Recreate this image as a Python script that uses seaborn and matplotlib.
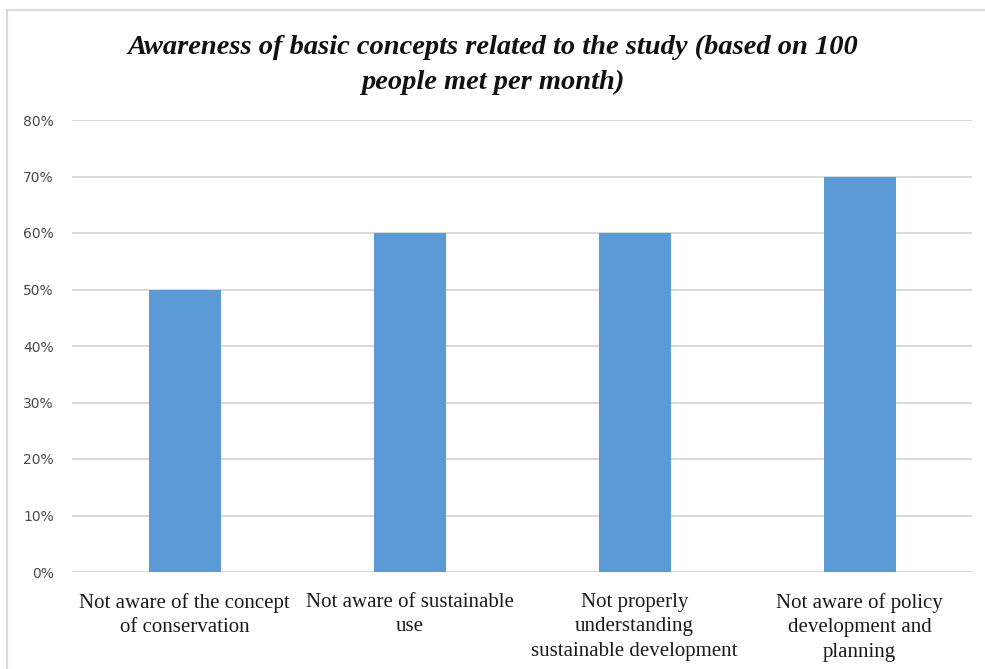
import matplotlib
matplotlib.use("Agg")
import matplotlib.pyplot as plt
import seaborn as sns
import pandas as pd
from matplotlib.patches import Rectangle
from matplotlib.ticker import FuncFormatter

categories = [
    "Not aware of the concept\nof conservation",
    "Not aware of sustainable\nuse",
    "Not properly\nunderstanding\nsustainable development",
    "Not aware of policy\ndevelopment and\nplanning",
]
shares = [0.50, 0.60, 0.60, 0.70]
title = "Awareness of basic concepts related to the study (based on 100\npeople met per month)"

df = pd.DataFrame({"category": categories, "share": shares})

sns.set_theme(style="white")
fig = plt.figure(figsize=(9.85, 6.69), dpi=100)
ax = fig.add_axes([72 / 985, 1 - 572 / 669, 900 / 985, 452 / 669])

sns.barplot(data=df, x="category", y="share", color="#5B9BD5", saturation=1,
            width=0.32, linewidth=0, ax=ax, zorder=3)

ax.set_ylim(0, 0.8)
ax.set_yticks([i / 10 for i in range(9)])
ax.yaxis.set_major_formatter(FuncFormatter(lambda v, _: f"{v * 100:.0f}%"))
ax.grid(axis="y", color="#D9D9D9", linewidth=1.4, zorder=0)
ax.set_axisbelow(True)
for s in ax.spines.values():
    s.set_visible(False)
ax.set_xlabel("")
ax.set_ylabel("")
ax.tick_params(axis="y", length=0, pad=13, labelsize=10, labelcolor="#4a4a4a")
ax.tick_params(axis="x", length=0, pad=15)
for lbl in ax.get_yticklabels():
    lbl.set_fontfamily("DejaVu Sans")
ax.set_xticks(range(len(categories)))
ax.set_xticklabels(categories, fontfamily="Liberation Serif", fontsize=15,
                   color="#1a1a1a", linespacing=1.4)

fig.text(0.5, 1 - 65 / 669, title, ha="center", va="center",
         fontfamily="Liberation Serif", fontweight="bold", fontstyle="italic",
         fontsize=20.5, color="#111111", linespacing=1.5)

# outer frame
fig.patches.append(Rectangle((7 / 985, -0.1), 1.2, 1 - 10 / 669 + 0.1,
                             transform=fig.transFigure, fill=False,
                             edgecolor="#D9D9D9", linewidth=1.5))

fig.savefig("out.png", dpi=100)
